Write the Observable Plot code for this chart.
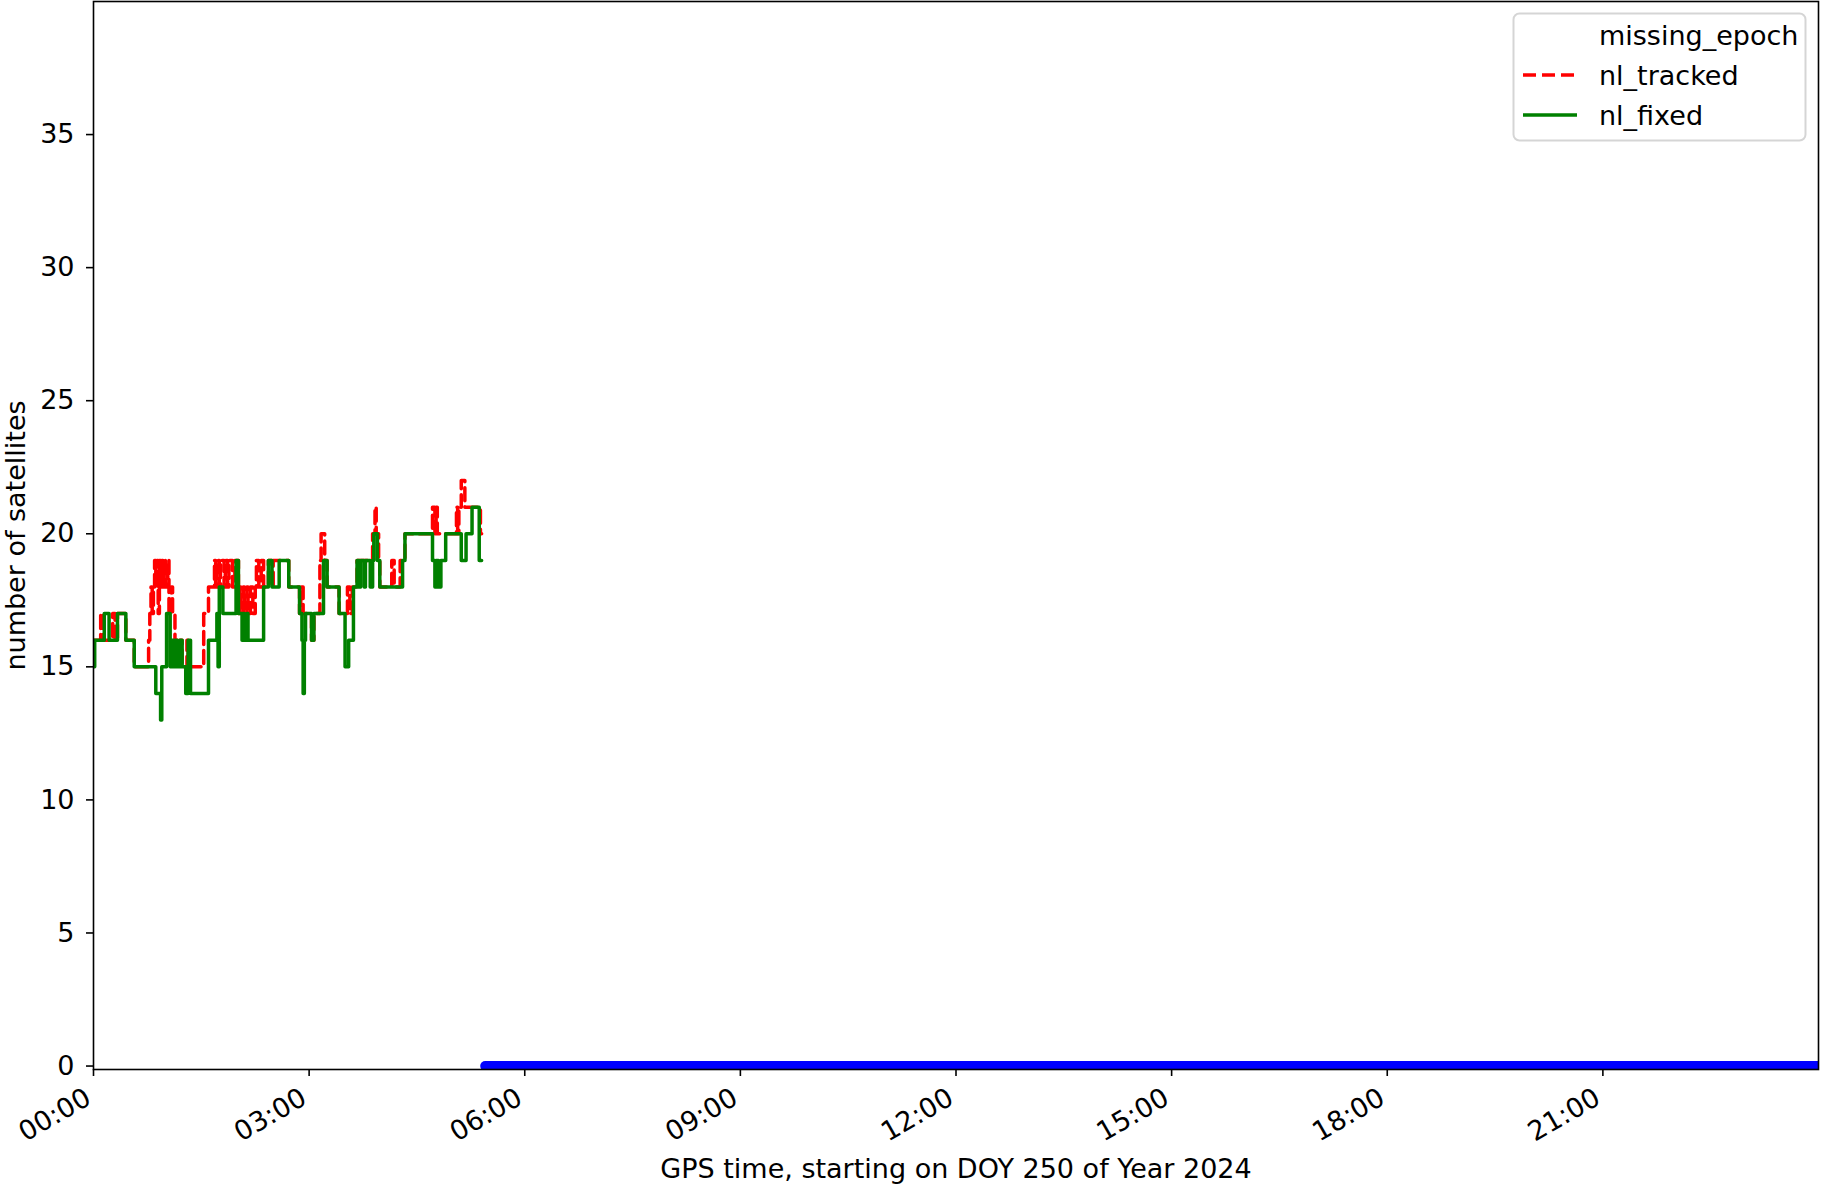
<!DOCTYPE html>
<html><head><meta charset="utf-8">
<script src="https://cdn.jsdelivr.net/npm/d3@7"></script>
<script src="https://cdn.jsdelivr.net/npm/@observablehq/plot@0.6"></script>
<style>
body{margin:0;background:#fff;font-family:"DejaVu Sans",sans-serif;}
#wrap{position:relative;width:1822px;height:1190px;}
#leg{position:absolute;left:0;top:0;pointer-events:none;}
</style></head><body><div id="wrap"></div>
<script>
// ---- data (GPS time HH:MM on DOY 250 of 2024, value) ----
const nlFixed = [
["00:00",15],["00:01",16],["00:09",17],["00:13",16],["00:20",17],["00:27",16],["00:34",15],
["00:52",14],["00:56",13],["00:57",15],["01:01",17],["01:04",15],["01:05",16],["01:07",15],
["01:08",16],["01:10",15],["01:12",16],["01:14",15],["01:17",14],["01:19",16],["01:21",14],
["01:36",16],["01:43",17],["01:44",15],["01:45",18],["01:48",17],["01:59",19],["02:01",17],
["02:04",16],["02:05",17],["02:06",16],["02:08",17],["02:09",16],["02:22",18],["02:26",19],
["02:29",18],["02:35",19],["02:43",18],["02:52",17],["02:54",16],["02:55",14],["02:56",16],
["02:57",17],["03:02",16],["03:04",17],["03:12",19],["03:15",18],["03:25",17],["03:30",15],
["03:33",16],["03:37",18],["03:40",19],["03:42",18],["03:43",19],["03:46",18],["03:47",19],
["03:51",18],["03:53",19],["03:54",20],["03:57",19],["03:59",18],["04:18",19],["04:20",20],
["04:43",19],["04:45",18],["04:46",19],["04:48",18],["04:50",19],["04:54",20],["05:07",19],
["05:11",20],["05:16",21],["05:22",19],["05:24",19]
];
const nlTracked = [
["00:00",16],["00:06",17],["00:08",16],["00:16",17],["00:18",16],["00:20",17],["00:27",16],
["00:34",15],["00:46",16],["00:47",17],["00:48",18],["00:49",17],["00:50",18],["00:51",19],
["00:52",18],["00:53",19],["00:54",17],["00:55",19],["00:56",18],["00:57",19],["00:58",18],
["00:59",19],["01:00",18],["01:02",19],["01:03",17],["01:05",18],["01:06",17],["01:08",16],
["01:10",15],["01:12",16],["01:14",15],["01:18",16],["01:19",15],["01:32",17],["01:36",18],
["01:41",19],["01:42",18],["01:43",19],["01:45",18],["01:46",19],["01:49",18],["01:50",19],
["01:52",18],["01:53",19],["01:56",18],["01:58",19],["02:01",17],["02:02",18],["02:03",17],
["02:05",18],["02:06",17],["02:08",18],["02:09",17],["02:11",18],["02:13",17],["02:15",18],
["02:16",19],["02:18",18],["02:20",19],["02:22",18],["02:26",19],["02:29",18],["02:30",19],
["02:43",18],["02:52",17],["02:53",18],["02:55",17],["03:02",16],["03:04",17],["03:09",19],
["03:10",20],["03:13",19],["03:15",18],["03:25",17],["03:32",18],["03:34",17],["03:36",18],
["03:40",19],["03:53",20],["03:55",21],["03:56",20],["03:58",19],["03:59",18],["04:09",19],
["04:11",18],["04:16",19],["04:20",20],["04:43",21],["04:45",20],["04:46",21],["04:47",20],
["05:03",21],["05:04",20],["05:05",21],["05:07",22],["05:10",21],["05:23",20],["05:24",20]
];
const missingEpoch = ["05:27", "24:00"];
const xTickLabels = ["00:00","03:00","06:00","09:00","12:00","15:00","18:00","21:00"];
const yTicks = [0, 5, 10, 15, 20, 25, 30, 35];
const xDomainLabels = ["00:00", "24:00"];
const yDomain = [-0.13, 40];
const legendLabels = ["missing_epoch", "nl_tracked", "nl_fixed"];

// ---- helpers ----
const toDate = s => { const [h, m] = s.split(":").map(Number); return new Date(Date.UTC(2024, 8, 6, h, m)); };
const rows = arr => arr.map(([t, v]) => ({t: toDate(t), v}));
const fixedRows = rows(nlFixed);
const trackedRows = rows(nlTracked);
const missRows = missingEpoch.map(t => ({t: toDate(t), v: 0}));
const FS = 27;

const chart = Plot.plot({
  width: 1822, height: 1190,
  marginLeft: 93, marginRight: 4, marginTop: 1, marginBottom: 121,
  style: {fontFamily: "DejaVu Sans, sans-serif", fontSize: FS + "px", color: "black", background: "white"},
  x: {type: "utc", domain: xDomainLabels.map(toDate)},
  y: {domain: yDomain},
  marks: [
    Plot.line(missRows, {x: "t", y: "v", stroke: "#0000ff", strokeWidth: 10, strokeLinecap: "round", clip: true}),
    Plot.line(trackedRows, {x: "t", y: "v", curve: "step-after", stroke: "#ff0000", strokeWidth: 3.5, strokeDasharray: "13,6", clip: true}),
    Plot.line(fixedRows, {x: "t", y: "v", curve: "step-after", stroke: "#008000", strokeWidth: 3.5, clip: true}),
    Plot.frame({stroke: "black", strokeWidth: 1.6}),
    Plot.axisY({ticks: yTicks, tickSize: 7, tickPadding: 12, strokeWidth: 1.6,
      label: "number of satellites", labelAnchor: "center", labelArrow: "none", labelOffset: 88}),
    Plot.axisX({ticks: xTickLabels.map(toDate), tickSize: 7, strokeWidth: 1.6, text: null, label: null}),
    Plot.axisX({ticks: xTickLabels.map(toDate), tickFormat: d3.utcFormat("%H:%M"), tickSize: 0, tickPadding: 26,
      tickRotate: -30, dx: -5,
      label: "GPS time, starting on DOY 250 of Year 2024", labelAnchor: "center", labelArrow: "none", labelOffset: 108})
  ]
});
const wrap = document.getElementById("wrap");
wrap.appendChild(chart);

// ---- legend (inside the axes, top-right) ----
const ns = "http://www.w3.org/2000/svg";
const leg = document.createElementNS(ns, "svg");
leg.setAttribute("id", "leg");
leg.setAttribute("width", 1822); leg.setAttribute("height", 1190);
const box = document.createElementNS(ns, "rect");
Object.entries({x: 1513.5, y: 13.5, width: 292, height: 127, rx: 6, fill: "white", "fill-opacity": 0.8, stroke: "#d5d5d5", "stroke-width": 2})
  .forEach(([k, v]) => box.setAttribute(k, v));
leg.appendChild(box);
const rowY = [35, 75, 115];
const styles = [null, {stroke: "#ff0000", dash: "13,6"}, {stroke: "#008000", dash: null}];
legendLabels.forEach((lab, i) => {
  const s = styles[i];
  if (s) {
    const ln = document.createElementNS(ns, "line");
    ln.setAttribute("x1", 1523); ln.setAttribute("x2", 1577);
    ln.setAttribute("y1", rowY[i]); ln.setAttribute("y2", rowY[i]);
    ln.setAttribute("stroke", s.stroke); ln.setAttribute("stroke-width", 3.5);
    if (s.dash) ln.setAttribute("stroke-dasharray", s.dash);
    leg.appendChild(ln);
  }
  const tx = document.createElementNS(ns, "text");
  tx.setAttribute("x", 1599); tx.setAttribute("y", rowY[i] + 10);
  tx.setAttribute("font-family", "DejaVu Sans, sans-serif"); tx.setAttribute("font-size", FS);
  tx.textContent = lab;
  leg.appendChild(tx);
});
wrap.appendChild(leg);
</script></body></html>
